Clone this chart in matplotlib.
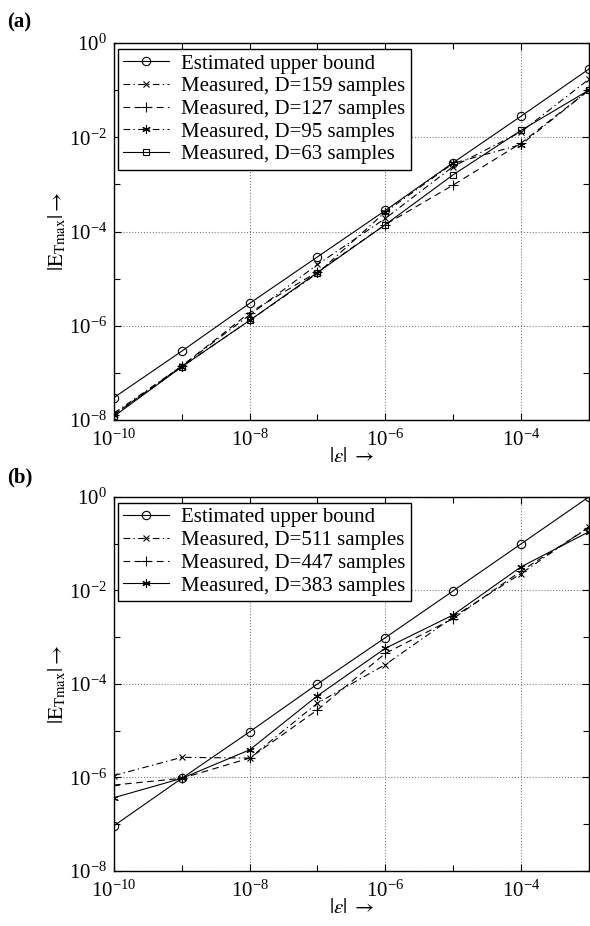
import numpy as np
import matplotlib.pyplot as plt
from matplotlib.ticker import FixedLocator, NullFormatter

plt.rcParams['font.family'] = ['Liberation Serif', 'DejaVu Serif']
plt.rcParams['mathtext.fontset'] = 'stix'

# datos
eps = [1e-10, 1e-9, 1e-8, 1e-7, 1e-6, 1e-5, 1e-4, 1e-3]

# panel (a)
ub_a = [3e-8, 2.9e-7, 3e-6, 2.9e-5, 2.8e-4, 2.9e-3, 2.8e-2, 2.8e-1]
d159 = [1.4e-8, 1.4e-7, 1.7e-6, 2.0e-5, 1.9e-4, 2.4e-3, 1.3e-2, 1.7e-1]
d127 = [1.3e-8, 1.4e-7, 1.9e-6, 1.4e-5, 1.4e-4, 9.7e-4, 7.5e-3, 1.0e-1]
d95 = [1.3e-8, 1.35e-7, 1.3e-6, 1.3e-5, 2.6e-4, 2.8e-3, 7e-3, 1.0e-1]
d63 = [1.2e-8, 1.35e-7, 1.3e-6, 1.35e-5, 1.4e-4, 1.6e-3, 1.4e-2, 1.0e-1]

# panel (b)
ub_b = [9.3e-8, 9.6e-7, 9.5e-6, 1e-4, 9.8e-4, 9.8e-3, 9.9e-2, 1.0]
d511 = [1.1e-6, 2.7e-6, 2.6e-6, 3.9e-5, 2.6e-4, 2.7e-3, 2.3e-2, 2.3e-1]
d447 = [6.9e-7, 9.6e-7, 2.6e-6, 2.8e-5, 4.5e-4, 2.5e-3, 2.6e-2, 2.2e-1]
d383 = [3.7e-7, 9.6e-7, 3.9e-6, 5.6e-5, 5.8e-4, 3.0e-3, 3.2e-2, 1.8e-1]

fig = plt.figure(figsize=(5.9, 9.26), dpi=100)
ax_a = fig.add_axes([0.1932, 0.5464, 0.8048, 0.4071])
ax_b = fig.add_axes([0.1932, 0.0594, 0.8048, 0.4039])

DASH = (0, (6, 4))
DASHDOT = (0, (6, 3, 1.2, 3))
AST = (6, 2, 0)


def serie(ax, y, ls, marker, ms, label):
    ax.plot(eps, y, linestyle=ls, marker=marker, markersize=ms, color='black',
            linewidth=0.8, markerfacecolor='none', markeredgecolor='black',
            markeredgewidth=0.8, label=label)


serie(ax_a, ub_a, '-', 'o', 6, 'Estimated upper bound')
serie(ax_a, d159, DASHDOT, 'x', 5, 'Measured, D=159 samples')
serie(ax_a, d127, DASH, '+', 7, 'Measured, D=127 samples')
serie(ax_a, d95, DASHDOT, AST, 6, 'Measured, D=95 samples')
serie(ax_a, d63, '-', 's', 5, 'Measured, D=63 samples')

serie(ax_b, ub_b, '-', 'o', 6, 'Estimated upper bound')
serie(ax_b, d511, DASHDOT, 'x', 5, 'Measured, D=511 samples')
serie(ax_b, d447, DASH, '+', 7, 'Measured, D=447 samples')
serie(ax_b, d383, '-', AST, 6, 'Measured, D=383 samples')

for ax in (ax_a, ax_b):
    ax.set_xscale('log')
    ax.set_yscale('log')
    ax.set_xlim(1e-10, 1e-3)
    ax.set_ylim(1e-8, 1e0)
    ax.xaxis.set_major_locator(FixedLocator([1e-10, 1e-8, 1e-6, 1e-4]))
    ax.xaxis.set_minor_locator(FixedLocator([1e-9, 1e-7, 1e-5, 1e-3]))
    ax.yaxis.set_major_locator(FixedLocator([1e-8, 1e-6, 1e-4, 1e-2, 1e0]))
    ax.yaxis.set_minor_locator(FixedLocator([1e-7, 1e-5, 1e-3, 1e-1]))
    ax.xaxis.set_minor_formatter(NullFormatter())
    ax.yaxis.set_minor_formatter(NullFormatter())
    ax.tick_params(which='both', direction='in', top=True, right=True,
                   labelsize=15, width=0.8)
    ax.tick_params(which='major', length=5, pad=5)
    ax.tick_params(axis='x', which='major', pad=7)
    ax.tick_params(which='minor', length=4)
    ax.grid(True, which='major', linestyle=':', color='gray', linewidth=0.8)
    for s in ax.spines.values():
        s.set_linewidth(1.0)
    ax.set_xlabel(r'$|\varepsilon|\ \rightarrow$', fontsize=15, labelpad=-2)
    ax.set_ylabel(r'$|\mathrm{E}_{\mathrm{Tmax}}|\rightarrow$', fontsize=15,
                  labelpad=0)
    leg = ax.legend(loc='upper left', bbox_to_anchor=(0.008, 0.985), fontsize=15,
                    fancybox=False, framealpha=1, edgecolor='black',
                    handlelength=2.2, borderpad=0.25, labelspacing=0.15,
                    handletextpad=0.6, borderaxespad=0)
    leg.get_frame().set_linewidth(1.0)

fig.text(0.012, 0.976, '(a)', fontsize=15, fontweight='bold', va='center')
fig.text(0.012, 0.484, '(b)', fontsize=15, fontweight='bold', va='center')

fig.savefig('out.png', dpi=100)
